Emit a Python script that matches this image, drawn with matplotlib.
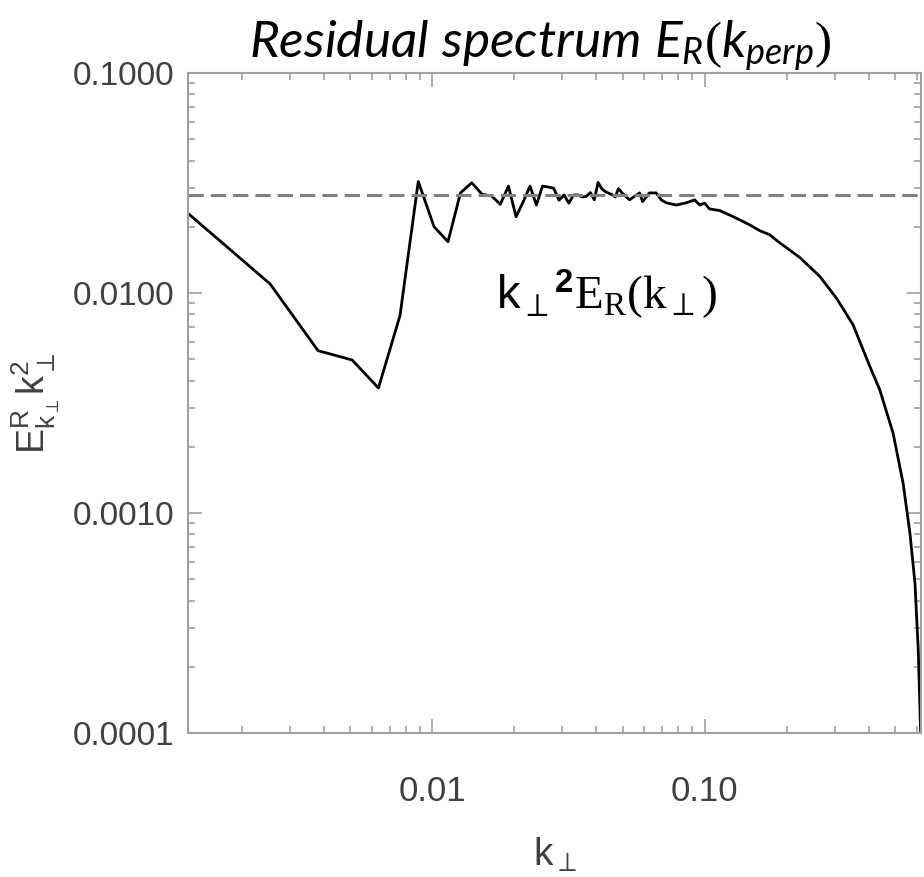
import numpy as np
import matplotlib
matplotlib.use("Agg")
import matplotlib.pyplot as plt
from matplotlib.ticker import LogLocator, FixedLocator, FuncFormatter, NullFormatter

plt.rcParams['font.family'] = ['Liberation Sans', 'DejaVu Sans']
plt.rcParams['mathtext.fontset'] = 'custom'
plt.rcParams['mathtext.rm'] = 'Liberation Serif'
plt.rcParams['mathtext.sf'] = 'Liberation Sans'
plt.rcParams['mathtext.it'] = 'Lato:italic'
plt.rcParams['mathtext.bf'] = 'Liberation Sans:bold'

# low-k part, one point per mode
k_low = [0.00127, 0.00254, 0.00381, 0.00508, 0.00635, 0.00762, 0.00889, 0.01016,
         0.01143, 0.0127, 0.01397, 0.01524, 0.01651, 0.01778, 0.01905, 0.02032,
         0.02159, 0.02286, 0.02413, 0.0254, 0.02667, 0.02794, 0.02921, 0.03048,
         0.03175, 0.03302, 0.03429, 0.03556, 0.03683, 0.0381, 0.03937, 0.04064,
         0.04191, 0.04318, 0.04445, 0.04572, 0.04699, 0.04826]
e_low = [0.0230, 0.0110, 0.00547, 0.00496, 0.0037, 0.0079, 0.0321, 0.0200,
         0.0171, 0.0285, 0.0317, 0.0281, 0.0276, 0.0253, 0.0306, 0.0222,
         0.0260, 0.0306, 0.0251, 0.0306, 0.0303, 0.0299, 0.0264, 0.0279,
         0.0256, 0.0279, 0.0279, 0.0273, 0.0275, 0.0286, 0.0265, 0.0318,
         0.0298, 0.0289, 0.0284, 0.0280, 0.0273, 0.0298]

# high-k part
k_high = [0.0499, 0.0530, 0.0577, 0.0592, 0.0628, 0.0664, 0.0693, 0.0723,
          0.0787, 0.0857, 0.0919, 0.0959, 0.100, 0.1043, 0.1135, 0.1236,
          0.1345, 0.1464, 0.1593, 0.1733, 0.1887, 0.2235, 0.2647, 0.305,
          0.3508, 0.4043, 0.4399, 0.4921, 0.5356, 0.5671, 0.5918, 0.6085, 0.6209]
e_high = [0.0284, 0.0265, 0.0285, 0.0260, 0.0285, 0.0285, 0.0265, 0.0257,
          0.0251, 0.0257, 0.0265, 0.0251, 0.0256, 0.0241, 0.0237, 0.0226,
          0.0215, 0.0204, 0.0192, 0.0184, 0.0169, 0.0145, 0.0119, 0.00946,
          0.00716, 0.00463, 0.00362, 0.00230, 0.00136, 0.000809, 0.000479, 0.000238, 0.0001]

level = 0.028
xlim = (0.00127, 0.621)
ylim = (1e-4, 0.1)

kperp = k_low + k_high
spec = e_low + e_high

fig = plt.figure(figsize=(9.24, 8.77), dpi=100)
ax = fig.add_axes([0.2035, 0.1642, 0.7929, 0.7526])

ax.plot(kperp, spec, color='black', lw=2.0)
ax.axhline(level, color='#808080', lw=2.2, linestyle=(0, (5, 2.3)))

ax.set_xscale('log')
ax.set_yscale('log')
ax.set_xlim(*xlim)
ax.set_ylim(*ylim)

grey = '#a0a0a0'
for s in ax.spines.values():
    s.set_color(grey)
    s.set_linewidth(1.5)

ax.xaxis.set_major_locator(FixedLocator([0.01, 0.1]))
ax.xaxis.set_minor_locator(LogLocator(base=10, subs=np.arange(2, 10)))
ax.xaxis.set_minor_formatter(NullFormatter())
ax.xaxis.set_major_formatter(FuncFormatter(lambda v, p: f"{v:.2f}"))
ax.yaxis.set_major_locator(FixedLocator([1e-4, 1e-3, 1e-2, 1e-1]))
ax.yaxis.set_minor_locator(LogLocator(base=10, subs=np.arange(2, 10)))
ax.yaxis.set_minor_formatter(NullFormatter())
ax.yaxis.set_major_formatter(FuncFormatter(lambda v, p: f"{v:.4f}"))

ax.tick_params(which='both', direction='in', top=True, right=True, color=grey, width=1.2)
ax.tick_params(which='major', length=10)
ax.tick_params(which='minor', length=5)
ax.tick_params(axis='y', which='major', pad=10, labelsize=24, labelcolor='#404040')
ax.tick_params(axis='x', which='major', pad=30, labelsize=25, labelcolor='#404040')

ax.set_xlabel(r"$\mathsf{k_\perp}$", fontsize=28, color='#404040', labelpad=20)
ax.set_ylabel(r"$\mathsf{E^R_{k_\perp}k^2_\perp}$", fontsize=27, color='#404040')
ax.yaxis.set_label_coords(-0.172, 0.5)

ax.text(0.0172, 0.0098, r"$\mathsf{k}_\perp{}^{\mathbf{2}}\mathrm{E_R(k_\perp)}$",
        fontsize=34, color='black', ha='left', va='center')

fig.text(0.584, 0.935, r"$\mathit{Residual\ spectrum\ E_R(k_{perp})}$",
         fontsize=37, color='black', ha='center', va='baseline')

fig.savefig('out.png', dpi=100)
